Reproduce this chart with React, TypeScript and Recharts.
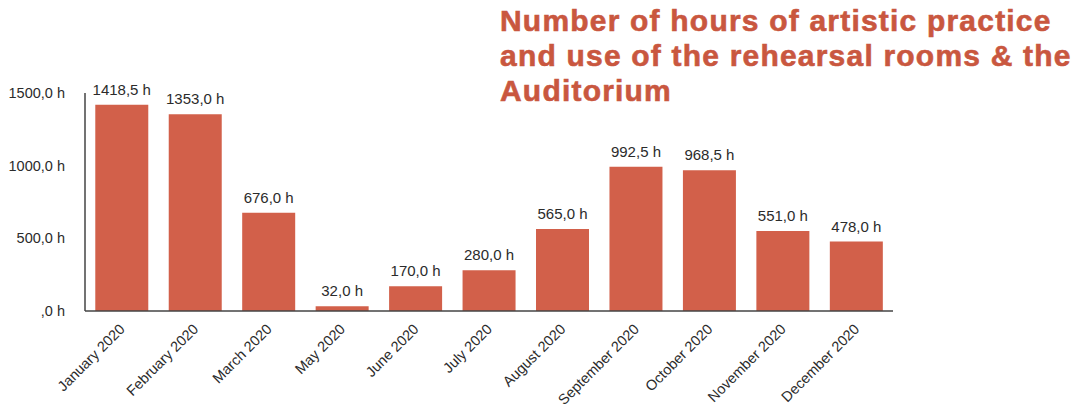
import { Bar, BarChart, LabelList, XAxis, YAxis } from 'recharts';

const months = [
  'January 2020',
  'February 2020',
  'March 2020',
  'May 2020',
  'June 2020',
  'July 2020',
  'August 2020',
  'September 2020',
  'October 2020',
  'November 2020',
  'December 2020',
];

const hours = [1418.5, 1353.0, 676.0, 32.0, 170.0, 280.0, 565.0, 992.5, 968.5, 551.0, 478.0];

const yTicks = [0, 500, 1000, 1500];

const titleLines = [
  'Number of hours of artistic practice',
  'and use of the rehearsal rooms & the',
  'Auditorium',
];

const data = months.map((month, i) => ({ month, hours: hours[i] }));

const fmt = (v: number) => (v === 0 ? ',0 h' : `${v.toFixed(1).replace('.', ',')} h`);

const BAR = '#d2604a';
const TEXT = '#2b2b2b';
const FONT = '"Liberation Sans", Arial, sans-serif';

function MonthTick({ x, y, payload }: any) {
  return (
    <text
      x={x + 4}
      y={y + 11}
      textAnchor="end"
      transform={`rotate(-45, ${x + 4}, ${y + 11})`}
      fontSize={14.5}
      fontFamily={FONT}
      fill={TEXT}
    >
      {payload.value}
    </text>
  );
}

function ValueLabel({ x, y, width, value }: any) {
  return (
    <text
      x={x + width / 2}
      y={y - 10}
      textAnchor="middle"
      fontSize={15}
      fontFamily={FONT}
      fill={TEXT}
    >
      {fmt(Number(value))}
    </text>
  );
}

export default function App() {
  return (
    <div style={{ position: 'absolute', left: 0, top: 0, width: 1072, height: 407, background: '#fff' }}>
      <div
        style={{
          position: 'absolute',
          left: 500,
          top: 3,
          color: '#c9573f',
          fontFamily: FONT,
          fontWeight: 700,
          fontSize: 30,
          lineHeight: '35px',
          whiteSpace: 'nowrap',
          letterSpacing: 1.2,
          WebkitTextStroke: '0.6px #c9573f',
        }}
      >
        {titleLines.map((t) => (
          <div key={t}>{t}</div>
        ))}
      </div>
      <BarChart
        width={1072}
        height={407}
        data={data}
        margin={{ top: 93, right: 179, bottom: 0, left: 0 }}
        barCategoryGap="14%"
        style={{ position: 'absolute', left: 0, top: 0 }}
      >
        <XAxis
          dataKey="month"
          interval={0}
          tickLine={false}
          axisLine={{ stroke: '#444', strokeWidth: 1.5 }}
          tick={<MonthTick />}
          height={96}
        />
        <YAxis
          domain={[0, 1500]}
          ticks={yTicks}
          tickFormatter={fmt}
          tickLine={false}
          axisLine={{ stroke: '#444', strokeWidth: 1.5 }}
          width={85}
          tick={{ fontSize: 14.5, fontFamily: FONT, fill: TEXT }}
          tickMargin={14}
        />
        <Bar dataKey="hours" fill={BAR} isAnimationActive={false}>
          <LabelList dataKey="hours" content={<ValueLabel />} />
        </Bar>
      </BarChart>
    </div>
  );
}
